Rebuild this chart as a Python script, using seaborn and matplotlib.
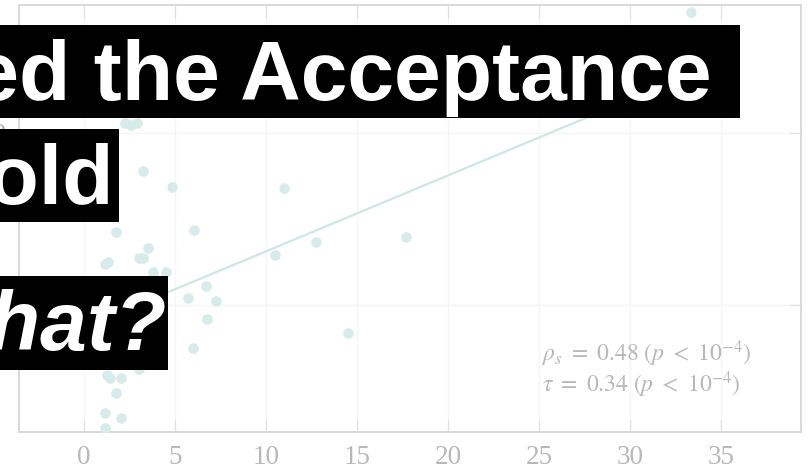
import matplotlib
matplotlib.use("Agg")
import matplotlib.pyplot as plt
from matplotlib.patches import Rectangle
import numpy as np
import pandas as pd
import seaborn as sns

# Observations: x value and score
x_vals = [33.35, 2.25, 2.58, 2.91, 3.24, 4.84, 10.99, 1.76, 6.04, 3.52, 3.02,
          3.24, 1.32, 1.15, 3.79, 4.51, 6.70, 5.71, 7.25, 6.76, 5.99, 10.49,
          12.75, 17.69, 14.51, 3.02, 1.26, 1.43, 2.03, 1.76, 1.15, 2.03, 1.15]
y_vals = [2.703, 2.058, 2.047, 2.058, 1.779, 1.686, 1.680, 1.424, 1.436, 1.331,
          1.273, 1.273, 1.250, 1.238, 1.192, 1.192, 1.110, 1.041, 1.023, 0.919,
          0.750, 1.291, 1.366, 1.395, 0.837, 0.628, 0.593, 0.576, 0.576, 0.488,
          0.372, 0.343, 0.285]

# Linear fit over the full sample
fit_slope = 0.0441
fit_intercept = 0.871

# Rank correlations
rho_s = 0.48
tau = 0.34

x_ticks = [0, 5, 10, 15, 20, 25, 30, 35]
y_ticks = [1, 2]

headline = ["Exceeded the Acceptance", "Threshold", "So What?"]

sns.set_theme(style="white")
plt.rcParams["mathtext.fontset"] = "stix"

W, H = 808, 469
fig = plt.figure(figsize=(W / 100, H / 100), dpi=100)
fig.patch.set_facecolor("white")

ax = fig.add_axes([19 / W, 37 / H, 782 / W, 427 / H])

pt_color = "#d5ecea"
line_color = "#cfe8e6"

df = pd.DataFrame({"x": x_vals, "y": y_vals})
sns.scatterplot(data=df, x="x", y="y", ax=ax, s=58, color=pt_color,
                linewidth=0, zorder=3)

fit_x = np.array([min(x_vals), max(x_vals)])
fit_df = pd.DataFrame({"x": fit_x, "y": fit_intercept + fit_slope * fit_x})
sns.lineplot(data=fit_df, x="x", y="y", ax=ax, color=line_color, lw=1.7,
             zorder=2)

ax.set_xlim(-3.57, 39.4)
ax.set_ylim(0.262, 2.744)
ax.set_xticks(x_ticks)
ax.set_yticks(y_ticks)
ax.set_xlabel("")
ax.set_ylabel("")
ax.grid(True, color="#f5f5f5", lw=1.0)
ax.set_axisbelow(True)
for sp in ax.spines.values():
    sp.set_color("#d6d6d6")
    sp.set_linewidth(1.3)
ax.tick_params(direction="in", length=9, width=0.9, color="#e0e0e0",
               top=True, right=True, left=True, bottom=True,
               labelsize=19.5, labelcolor="#b8b8b8", pad=9)
for lab in ax.get_xticklabels() + ax.get_yticklabels():
    lab.set_fontfamily("Liberation Serif")

stats_color = "#b8b8b8"
fig.text(542 / W, 1 - 354 / H,
         rf"$\rho_s\ =\ {rho_s:.2f}\ (p\ <\ 10^{{-4}})$",
         fontsize=17, color=stats_color, ha="left", va="center")
fig.text(542 / W, 1 - 385 / H,
         rf"$\tau\ =\ {tau:.2f}\ (p\ <\ 10^{{-4}})$",
         fontsize=17, color=stats_color, ha="left", va="center")

# Headline banners
banners = [
    # (box left, top, right, bottom, text right edge, baseline, style)
    (0, 25, 740, 118, 712, 100, "normal"),
    (0, 129, 119, 222, 114, 204, "normal"),
    (0, 276, 168, 370, 166, 350, "italic"),
]
for (x0, top, x1, bot, tx, base, style), txt in zip(banners, headline):
    fig.add_artist(Rectangle((x0 / W, 1 - bot / H), (x1 - x0) / W,
                             (bot - top) / H, transform=fig.transFigure,
                             facecolor="black", edgecolor="none", zorder=10))
    fig.text(tx / W, 1 - base / H, txt, fontfamily="Liberation Sans",
             fontweight="bold", fontstyle=style, fontsize=60.5,
             color="white", ha="right", va="baseline", zorder=11)

fig.savefig("out.png", dpi=100)
